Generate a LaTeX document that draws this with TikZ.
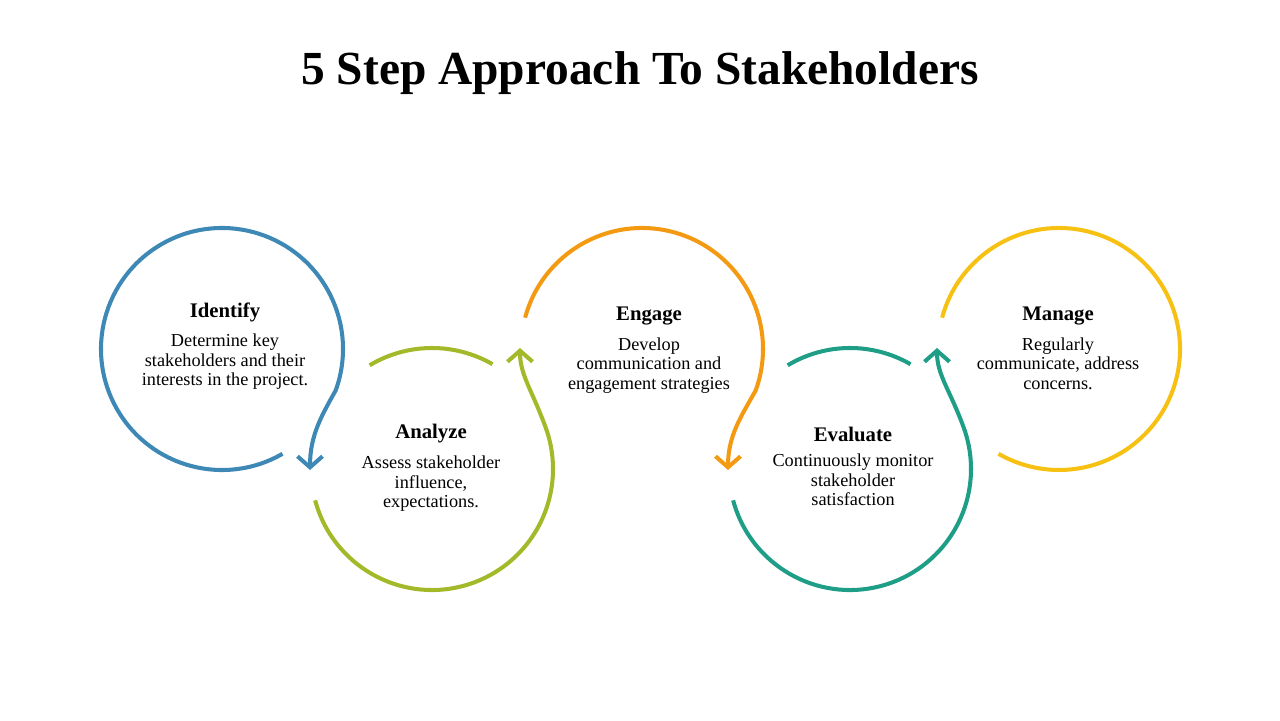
\documentclass[tikz,border=0pt]{standalone}
\usepackage{fontspec}
\setmainfont{Liberation Serif}
\usetikzlibrary{arrows.meta}
\definecolor{cblue}{HTML}{3D88B5}
\definecolor{cgreen}{HTML}{A4B92A}
\definecolor{corange}{HTML}{F39A12}
\definecolor{cteal}{HTML}{1E9E86}
\definecolor{cyellow}{HTML}{F7C114}
\tikzset{
  ring/.style={line width=2.3pt},
  tip/.style={-{Straight Barb[length=2.2mm,width=5mm,line width=2.3pt]}},
  head/.style={font=\fontsize{11.8}{14}\selectfont\bfseries},
  body/.style={font=\fontsize{10.4}{11.2}\selectfont, align=center}
}
\begin{document}
\begin{tikzpicture}[x=0.02cm,y=0.02cm]
  \useasboundingbox (0,0) rectangle (1280,720);

  \node (title) at (640,647) {\fontsize{27}{31}\selectfont\bfseries 5 Step Approach To Stakeholders};

  \coordinate (cid) at (222,371);
  \coordinate (can) at (432,251);
  \coordinate (cen) at (642,371);
  \coordinate (cev) at (850,251);
  \coordinate (cma) at (1059,371);

  % identify
  \draw[ring, tip, cblue] (cid) ++(-60:121) arc[start angle=-60, end angle=-380, radius=121]
    .. controls (322,305) and (310,285) .. (310,250);
  % analyze
  \draw[ring, cgreen] (can) ++(121:121) arc[start angle=121, end angle=60, radius=121];
  \draw[ring, tip, cgreen] (can) ++(195:121) arc[start angle=195, end angle=380, radius=121]
    .. controls (532,330) and (520,345) .. (520,372);
  % engage
  \draw[ring, tip, corange] (cen) ++(165:121) arc[start angle=165, end angle=-20, radius=121]
    .. controls (742,305) and (728,285) .. (728,250);
  % evaluate
  \draw[ring, cteal] (cev) ++(121:121) arc[start angle=121, end angle=60, radius=121];
  \draw[ring, tip, cteal] (cev) ++(195:121) arc[start angle=195, end angle=380, radius=121]
    .. controls (950,330) and (937,345) .. (937,372);
  % manage
  \draw[ring, cyellow] (cma) ++(165:121) arc[start angle=165, end angle=-120, radius=121];

  \node[head] (hid) at (225,408) {Identify};
  \node[body, below=0pt] (tid) at (hid.south) {Determine key\\stakeholders and their\\interests in the project.};
  \node[head] (han) at (431,286) {Analyze};
  \node[body, below=0pt] (tan) at (han.south) {Assess stakeholder\\influence,\\expectations.};
  \node[head] (hen) at (649,404) {Engage};
  \node[body, below=0pt] (ten) at (hen.south) {Develop\\communication and\\engagement strategies};
  \node[head] (hev) at (853,286) {Evaluate};
  \node[body, below=0pt] (tev) at (hev.south) {Continuously monitor\\stakeholder\\satisfaction};
  \node[head] (hma) at (1058,404) {Manage};
  \node[body, below=0pt] (tma) at (hma.south) {Regularly\\communicate, address\\concerns.};
\end{tikzpicture}
\end{document}
